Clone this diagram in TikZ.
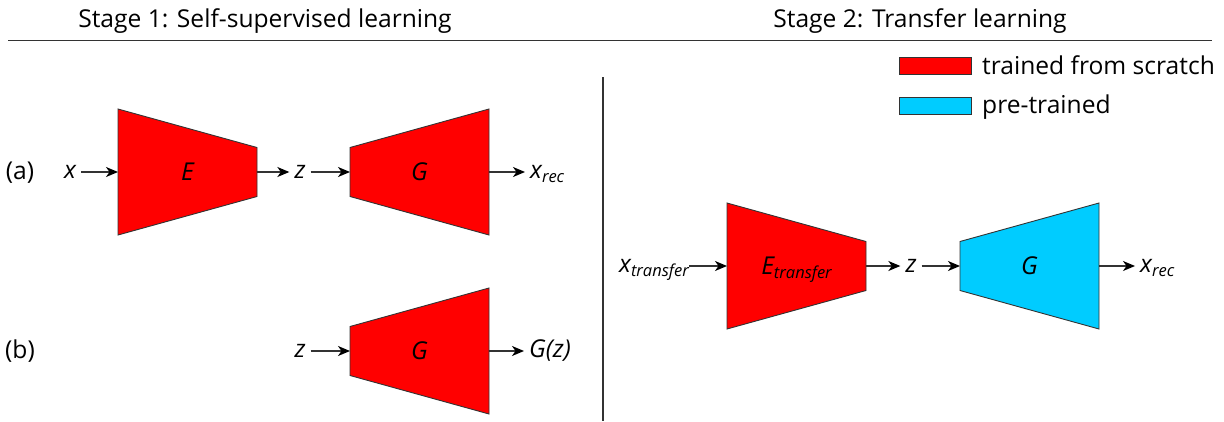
\documentclass[tikz,border=0pt]{standalone}
\usepackage{fontspec}
\setmainfont{Open Sans}
\usetikzlibrary{arrows.meta}
\definecolor{blockred}{HTML}{FF0000}
\definecolor{blockblue}{HTML}{00CCFF}
\definecolor{rulegray}{HTML}{333333}
\newcommand\lblsub[1]{\raisebox{-0.32ex}{\fontsize{16.5}{16.5}\selectfont #1}}
\newcommand\trapblock[8]{%
  \draw[blockline, fill=#7] (#2,#4-#5) -- (#3,#4-#6) -- (#3,#4+#6) -- (#2,#4+#5) -- cycle;
  \coordinate (#1-w) at (#2,#4);
  \coordinate (#1-e) at (#3,#4);
  \node[lbl, anchor=base] (#1) at ({(#2+#3)/2},#4+8.5) {#8};
}
\tikzset{
  blockline/.style={draw=rulegray, line width=0.9pt},
  lbl/.style={inner sep=0pt, font=\fontsize{24.6}{28}\selectfont\itshape},
  plain/.style={inner sep=0pt, font=\fontsize{24.6}{28}\selectfont},
  arr/.style={draw=rulegray, line width=1.3pt, -{Stealth[length=12pt, width=10pt, inset=3.5pt, black]}},
  rule/.style={draw=rulegray, line width=1.2pt},
  legbox/.style={draw=rulegray, line width=0.9pt}
}
\begin{document}
\begin{tikzpicture}[x=1pt, y={(0pt,-1pt)}]
\useasboundingbox (0,0) rectangle (1224,421);
% titles and rules
\node[plain, anchor=base] (t1) at (265,27) {Stage 1: Self-supervised learning};
\node[plain, anchor=base] (t2) at (920,27) {Stage 2: Transfer learning};
\coordinate (hl) at (8,40.5);
\coordinate (hr) at (1212,40.5);
\draw[rule] (hl) -- (hr);
\coordinate (vt) at (603,77);
\coordinate (vb) at (603,421);
\draw[rule] (vt) -- (vb);
% legend
\draw[legbox, fill=blockred] (899,57) rectangle (971,74);
\node[plain, anchor=base west] (leg1) at (982,74) {trained from scratch};
\draw[legbox, fill=blockblue] (899,97) rectangle (971,114);
\node[plain, anchor=base west] (leg2) at (982,113) {pre-trained};
% (a)
\node[plain, anchor=base] (la) at (20,179) {(a)};
\trapblock{Ea}{118}{257}{172}{63}{24.5}{blockred}{E}
\trapblock{Ga}{350}{489}{172}{24.5}{63}{blockred}{G}
\node[lbl, anchor=base] (xa) at (70,178.5) {x};
\node[lbl, anchor=base] (za) at (300,178.5) {z};
\node[lbl, anchor=base west] (xreca) at (530,178.5) {x\lblsub{rec}};
\draw[arr, shorten <=5pt] (xa.east |- Ea-w) -- (Ea-w);
\draw[arr, shorten >=5pt] (Ea-e) -- (za.west |- Ea-e);
\draw[arr, shorten <=5pt] (za.east |- Ga-w) -- (Ga-w);
\draw[arr, shorten >=5pt] (Ga-e) -- (xreca.west |- Ga-e);
% (b)
\node[plain, anchor=base] (lb) at (20,358) {(b)};
\trapblock{Gb}{350}{489}{351}{24.5}{63}{blockred}{G}
\node[lbl, anchor=base] (zb) at (300,357.5) {z};
\node[lbl, anchor=base west] (gz) at (529,357.5) {G(z)};
\draw[arr, shorten <=5pt] (zb.east |- Gb-w) -- (Gb-w);
\draw[arr, shorten >=5pt] (Gb-e) -- (gz.west |- Gb-e);
% Stage 2
\trapblock{Et}{727}{866}{266}{63}{24.5}{blockred}{E\lblsub{transfer}}
\trapblock{Gt}{960}{1099}{266}{24.5}{63}{blockblue}{G}
\node[lbl, anchor=base west] (xt) at (619,272.5) {x\lblsub{transfer}};
\node[lbl, anchor=base] (zt) at (911,272.5) {z};
\node[lbl, anchor=base west] (xrect) at (1140,272.5) {x\lblsub{rec}};
\draw[arr] (xt.east |- Et-w) -- (Et-w);
\draw[arr, shorten >=5pt] (Et-e) -- (zt.west |- Et-e);
\draw[arr, shorten <=5pt] (zt.east |- Gt-w) -- (Gt-w);
\draw[arr, shorten >=5pt] (Gt-e) -- (xrect.west |- Gt-e);
\end{tikzpicture}
\end{document}
